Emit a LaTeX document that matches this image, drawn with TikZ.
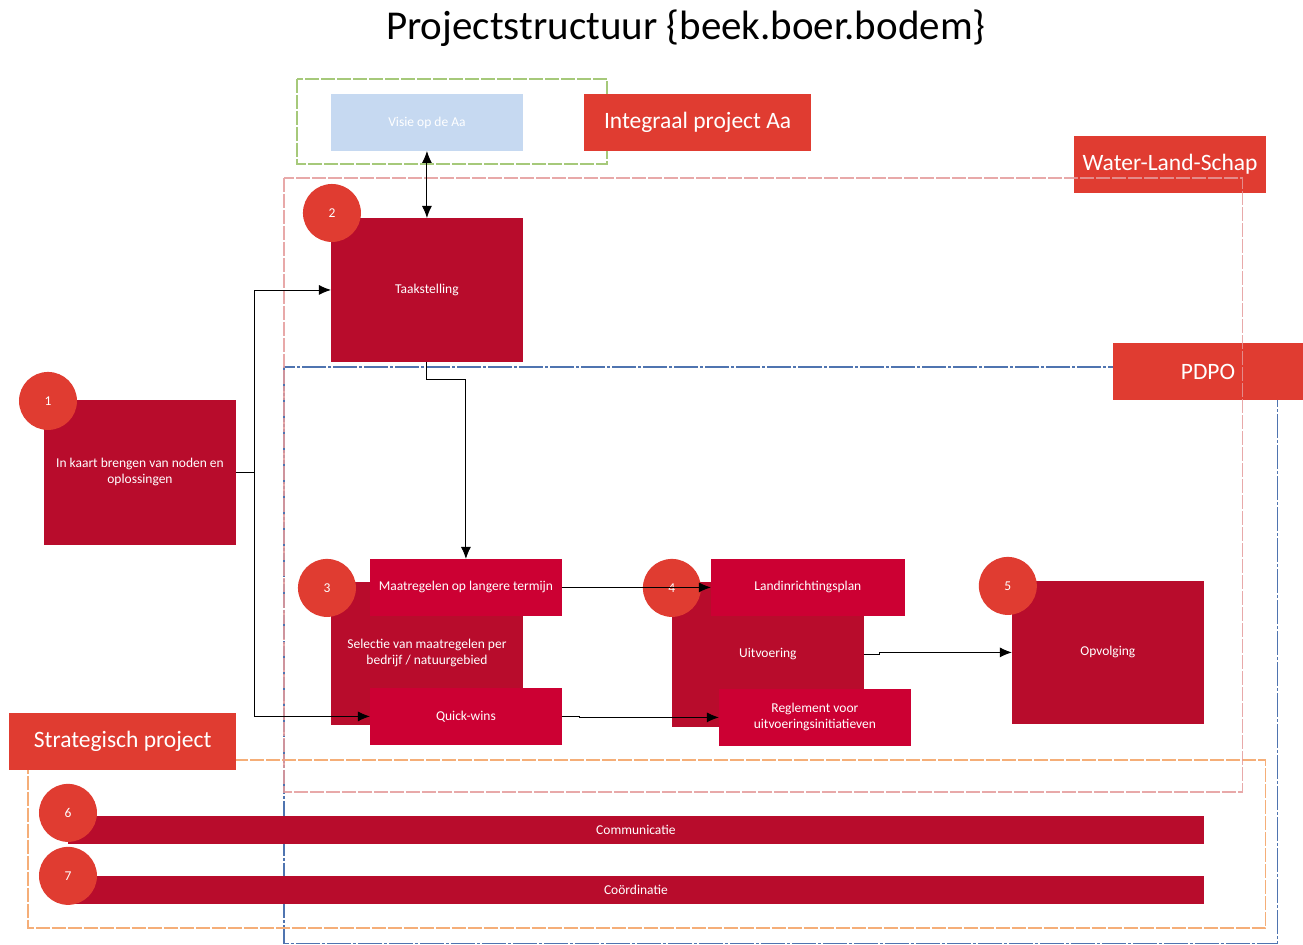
\documentclass[tikz,border=0pt]{standalone}
\usepackage{fontspec}
\setmainfont{Carlito}
\usepackage{xcolor}
\usepackage{tikz}
\usetikzlibrary{arrows.meta}
\definecolor{donkerrood}{HTML}{B80C2C}
\definecolor{helderrood}{HTML}{CC0033}
\definecolor{oranjerood}{HTML}{E03C31}
\definecolor{lichtblauw}{HTML}{C6D9F1}
\definecolor{rozelijn}{HTML}{E59A9A}
\definecolor{blauwlijn}{HTML}{4F74B0}
\definecolor{groenlijn}{HTML}{A6C97A}
\definecolor{oranjelijn}{HTML}{F5AE78}

\begin{document}
\begin{tikzpicture}[x=1pt,y=-1pt,
  blok/.style={fill=donkerrood,text=white,inner sep=0pt,outer sep=0pt,anchor=north west,
    align=center,minimum width=192pt,font=\fontsize{13.5}{16}\selectfont},
  subblok/.style={blok,fill=helderrood,minimum height=57pt},
  kop/.style={fill=oranjerood,text=white,inner sep=0pt,anchor=north west,
    minimum height=57pt,font=\fontsize{23.5}{28}\selectfont},
  nummer/.style={circle,fill=oranjerood,text=white,minimum size=58pt,inner sep=0pt,
    font=\fontsize{13.5}{16}\selectfont},
  kader/.style={line width=1.3pt,dash pattern=on 14pt off 2pt},
  pijl/.style={-{Latex[length=12pt,width=10pt]},line width=0.9pt}]
  \fill[white] (0,0) rectangle (1303,945);
  \node[font=\fontsize{41}{46}\selectfont] (titel) at (686,28) {Projectstructuur \{beek.boer.bodem\}};
  \draw[blauwlijn,line width=1.2pt,dash pattern=on 24pt off 2pt on 3pt off 2pt] (284,367) rectangle (1278,944);
  \draw[oranjelijn,kader] (28,760) rectangle (1266,928);
  \draw[groenlijn,kader] (297,79) rectangle (607,164);
  \node[kop,minimum width=227pt] (strat) at (9,713) {Strategisch project};
  \node[kop,minimum width=227pt] (integraal) at (584,94) {Integraal project Aa};
  \node[kop,minimum width=192pt] (wls) at (1074,136) {Water-Land-Schap};
  \node[kop,minimum width=190pt] (pdpo) at (1113,343) {PDPO};
  \draw[rozelijn,kader,opacity=0.85] (284,178) rectangle (1243,792);
  \node[blok,fill=lichtblauw,text=white,minimum height=57pt] (visie) at (331,94) {Visie op de Aa};
  \node[blok,minimum height=145pt] (kaart) at (44,400) {In kaart brengen van noden en\\oplossingen};
  \node[blok,minimum height=144pt] (taak) at (331,218) {Taakstelling};
  \node[blok,minimum height=143pt] (selectie) at (331,582) {Selectie van maatregelen per\\bedrijf / natuurgebied};
  \node[blok,minimum height=145pt] (uitvoering) at (672,582) {Uitvoering};
  \node[blok,minimum height=143pt] (opvolging) at (1012,581) {Opvolging};
  \node[blok,minimum width=1136pt,minimum height=28pt] (communicatie) at (68,816) {Communicatie};
  \node[blok,minimum width=1136pt,minimum height=28pt] (coordinatie) at (68,876) {Coördinatie};
  \node[nummer] (n1) at (48,401) {1};
  \node[nummer] (n2) at (332,213) {2};
  \node[nummer] (n3) at (327,588) {3};
  \node[nummer] (n4) at (672,588) {4};
  \node[nummer] (n5) at (1008,586) {5};
  \node[nummer] (n6) at (68,813) {6};
  \node[nummer] (n7) at (68,876) {7};
  \node[subblok] (maatregelen) at (370,559) {Maatregelen op langere termijn};
  \node[subblok] (quickwins) at (370,688) {Quick-wins};
  \node[subblok,minimum width=194pt] (landinrichting) at (711,559) {Landinrichtingsplan};
  \node[subblok] (reglement) at (719,689) {Reglement voor\\uitvoeringsinitiatieven};
  \coordinate (splitsing) at ([xshift=18pt]kaart.east);
  \draw[pijl,{Latex[length=12pt,width=10pt]}-{Latex[length=12pt,width=10pt]}] (visie) -- (taak);
  \draw[pijl] (taak.south) -- ++(0,18) -| (maatregelen.north);
  \draw[line width=0.9pt] (kaart.east) -- (splitsing);
  \draw[pijl] (splitsing) |- (taak.west);
  \draw[pijl] (splitsing) |- (quickwins.west);
  \draw[pijl] (maatregelen) -- (landinrichting);
  \draw[pijl] (quickwins.east) -- ++(18,0) |- (reglement.west);
  \draw[pijl] (uitvoering.east) -- ++(16,0) |- (opvolging.west);
\end{tikzpicture}
\end{document}
